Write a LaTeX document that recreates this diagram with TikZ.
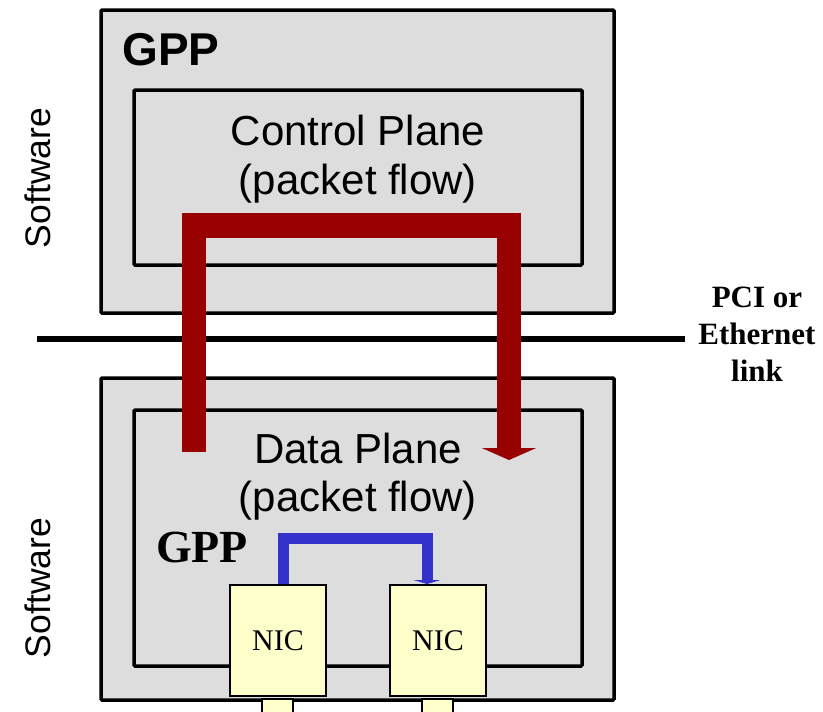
\documentclass[tikz,border=0pt]{standalone}
\usepackage{fontspec}
\setmainfont{Liberation Serif}
\setsansfont{Liberation Sans}
\usetikzlibrary{arrows.meta}

\definecolor{boxgray}{HTML}{DDDDDD}
\definecolor{nicyellow}{HTML}{FFFFCC}
\definecolor{flowred}{HTML}{990000}
\definecolor{nicblue}{HTML}{3333CC}

\begin{document}
\begin{tikzpicture}[x=1pt,y=-1pt,
    gppbox/.style={draw,line width=3.5pt,fill=boxgray,rounded corners=1pt,inner sep=0pt},
    nicbox/.style={draw,line width=2pt,fill=nicyellow,inner sep=0pt,
      minimum width=96pt,minimum height=111pt,font=\rmfamily\fontsize{30}{32}\selectfont},
    pinbox/.style={draw,line width=2pt,fill=nicyellow,inner sep=0pt,
      minimum width=31pt,minimum height=28pt},
    planetext/.style={anchor=base,font=\sffamily\fontsize{42}{48}\selectfont},
    swtext/.style={rotate=90,font=\sffamily\fontsize{35.5}{40}\selectfont}]
  \useasboundingbox (0,0) rectangle (823,712);

  % host side
  \node[gppbox,minimum width=513pt,minimum height=303pt] (topgpp) at (357.5,161.5) {};
  \node[gppbox,minimum width=448pt,minimum height=175pt] (ctrlbox) at (358,177.5) {};
  \node[font=\sffamily\bfseries\fontsize{46}{50}\selectfont] (topgpplbl) at (171,50) {GPP};
  \node[planetext] (ctrl1) at (358,145) {Control Plane};
  \node[planetext] (ctrl2) at (358,194) {(packet flow)};
  \node[swtext] (swtop) at (38,178) {Software};

  % card side
  \node[gppbox,minimum width=513pt,minimum height=322pt] (botgpp) at (357.5,539) {};
  \node[gppbox,minimum width=448pt,minimum height=256pt] (databox) at (358,538) {};
  \node[planetext] (data1) at (358,463) {Data Plane};
  \node[planetext] (data2) at (358,511) {(packet flow)};
  \node[font=\rmfamily\bfseries\fontsize{46}{50}\selectfont] (botgpplbl) at (202,547) {GPP};
  \node[swtext] (swbot) at (38,588) {Software};

  \node[pinbox] (pinL) at (277.5,713) {};
  \node[pinbox] (pinR) at (437.5,713) {};
  \node[nicbox] (nicL) at (278,640.5) {NIC};
  \node[nicbox] (nicR) at (438,640.5) {NIC};

  % link
  \coordinate (linkL) at (37,339);
  \coordinate (linkR) at (685,339);
  \draw[line width=6pt] (linkL) -- (linkR);
  \node[font=\rmfamily\bfseries\fontsize{31}{37}\selectfont,align=center] (linklbl) at (757,334)
    {PCI or\\Ethernet\\link};

  % packet flows
  \coordinate (redin) at (194,452);
  \coordinate (redout) at (509,460);
  \draw[flowred,line width=24.5pt,-{Triangle[width=54pt,length=12pt]}]
    (redin) -- ++(0,-226.5) -| (redout);
  \draw[nicblue,line width=11pt,-{Triangle[width=27pt,length=4pt]}]
    ([xshift=5pt]nicL.north) -- ++(0,-45.5) -| ([xshift=-11pt]nicR.north);
\end{tikzpicture}
\end{document}
